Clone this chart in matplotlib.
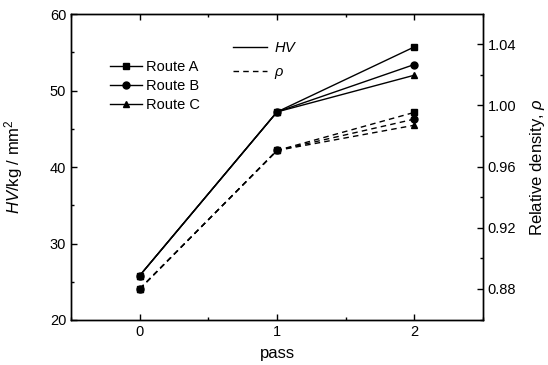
import numpy as np
import matplotlib
matplotlib.use("Agg")
import matplotlib.pyplot as plt
from matplotlib.lines import Line2D
from matplotlib.ticker import MultipleLocator

plt.rcParams['font.family'] = ['Liberation Sans', 'DejaVu Sans']
plt.rcParams['mathtext.fontset'] = 'custom'
plt.rcParams['mathtext.it'] = 'Liberation Sans:italic'
plt.rcParams['mathtext.rm'] = 'Liberation Sans'

passes = [0, 1, 2]
routes = ['Route A', 'Route B', 'Route C']
markers = ['s', 'o', '^']
hv = {'Route A': [25.8, 47.2, 55.7],
      'Route B': [25.8, 47.2, 53.4],
      'Route C': [25.8, 47.2, 52.0]}
rho = {'Route A': [0.880, 0.9705, 0.9954],
       'Route B': [0.880, 0.9705, 0.9910],
       'Route C': [0.880, 0.9705, 0.9870]}

fig = plt.figure(figsize=(5.48, 3.65), dpi=100)
ax = fig.add_axes([0.1296, 0.1233, 0.7518, 0.8383])
ax2 = ax.twinx()

for r, m in zip(routes, markers):
    ax.plot(passes, hv[r], '-', marker=m, color='black', lw=1, ms=5)
    ax2.plot(passes, rho[r], '--', marker=m, color='black', lw=1, ms=5, dashes=(4, 3))

ax.set_xlim(-0.5, 2.5)
ax.set_ylim(20, 60)
ax2.set_ylim(0.8597, 1.0597)
ax.set_xticks(passes)
ax.xaxis.set_minor_locator(MultipleLocator(0.5))
ax.yaxis.set_major_locator(MultipleLocator(10))
ax.yaxis.set_minor_locator(MultipleLocator(5))
ax2.set_yticks([0.88, 0.92, 0.96, 1.00, 1.04])
ax2.set_yticklabels(['0.88', '0.92', '0.96', '1.00', '1.04'])
ax2.yaxis.set_minor_locator(MultipleLocator(0.02))

ax.tick_params(which='both', direction='in', top=True, labelsize=10.5, width=1)
ax.tick_params(which='major', length=4)
ax.tick_params(which='minor', length=2.5)
ax2.tick_params(which='both', direction='in', labelsize=10.5, width=1)
ax2.tick_params(which='major', length=4)
ax2.tick_params(which='minor', length=2.5)
for a in (ax, ax2):
    for s in a.spines.values():
        s.set_linewidth(1)

ax.set_xlabel('pass', fontsize=12, labelpad=5)
ax.set_ylabel(r'$HV$/kg / mm$^2$', fontsize=12, labelpad=18)
ax2.set_ylabel(r'Relative density, $\rho$', fontsize=12, labelpad=8)

h1 = [Line2D([], [], color='black', lw=1, marker=m, ms=5) for m in markers]
leg1 = ax.legend(h1, routes, loc='upper left', bbox_to_anchor=(0.08, 0.87),
                 frameon=False, fontsize=10.5, handlelength=2.2,
                 handletextpad=0.3, labelspacing=0.35, borderaxespad=0)
ax.add_artist(leg1)
h2 = [Line2D([], [], color='black', lw=1),
      Line2D([], [], color='black', lw=1, ls='--', dashes=(4, 3))]
ax.legend(h2, [r'$HV$', r'$\rho$'], loc='upper left', bbox_to_anchor=(0.38, 0.93),
          frameon=False, fontsize=10.5, handlelength=2.3,
          handletextpad=0.5, labelspacing=0.65, borderaxespad=0)

fig.savefig('out.png', dpi=100)
